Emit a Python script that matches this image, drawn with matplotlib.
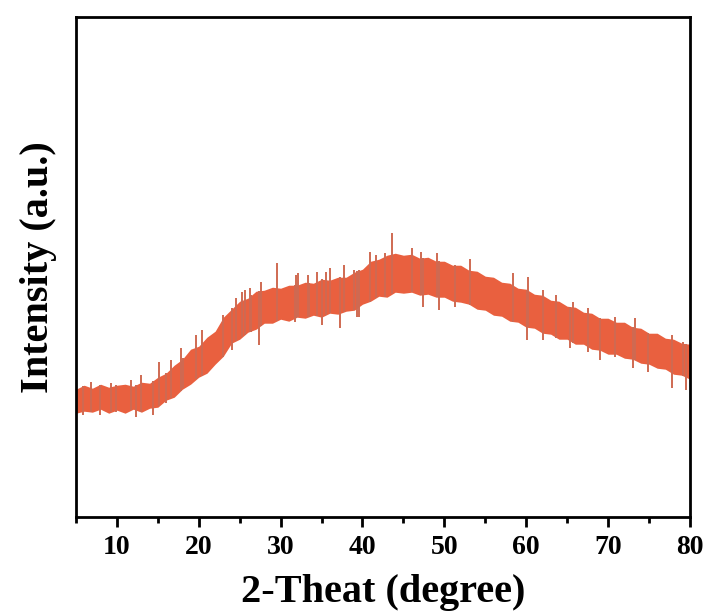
import matplotlib
matplotlib.use('Agg')
import matplotlib.pyplot as plt
import numpy as np
from matplotlib.ticker import MultipleLocator

# 2-theta grid (degrees) with upper / lower edges of the noisy band (a.u.)
theta = list(range(5, 81))
upper = [128, 132, 129, 133, 130, 132, 133, 131, 135, 134,
         140, 144, 152, 158, 168, 171, 180, 186, 200, 208,
         216, 219, 226, 227, 230, 229, 232, 232, 235, 234,
         238, 237, 240, 240, 245, 248, 256, 258, 262, 264,
         262, 263, 259, 260, 256, 256, 252, 252, 247, 246,
         241, 240, 235, 234, 229, 228, 223, 222, 217, 216,
         211, 210, 205, 204, 199, 199, 195, 195, 190, 189,
         184, 184, 179, 178, 174, 173]
lower = [104, 106, 105, 108, 104, 107, 104, 108, 105, 109,
         110, 117, 120, 128, 133, 140, 144, 153, 161, 174,
         178, 185, 188, 194, 194, 198, 196, 200, 199, 202,
         200, 204, 203, 206, 207, 213, 216, 221, 220, 225,
         224, 225, 222, 223, 220, 220, 216, 215, 213, 208,
         207, 202, 201, 196, 195, 190, 189, 184, 183, 178,
         178, 173, 173, 168, 167, 163, 163, 159, 158, 154,
         153, 149, 148, 143, 142, 138]

# isolated spikes above / below the band
up_x = [6.8, 9.3, 11.7, 12.9, 15.2, 16.6, 17.8, 19.7, 20.4, 22.9, 24.6, 25.3,
        25.6, 26.2, 27.6, 29.6, 31.9, 32.1, 33.3, 34.5, 35.6, 36.0, 37.8, 39.0,
        40.9, 41.7, 42.7, 43.6, 46.0, 47.2, 49.1, 53.1, 58.4, 60.2, 62.0, 63.7,
        65.7, 67.5, 70.8, 73.3, 77.8, 79.2]
up_y = [135, 134, 137, 142, 155, 157, 169, 182, 187, 202, 219, 225,
        227, 229, 235, 254, 242, 244, 242, 245, 245, 249, 252, 247,
        265, 262, 264, 284, 269, 265, 264, 258, 244, 240, 227, 222,
        215, 209, 200, 199, 182, 175]
down_x = [5.9, 7.9, 9.9, 12.3, 14.4, 16.0, 18.1, 19.7, 24.1, 26.4, 27.4,
          31.7, 33.5, 35.0, 37.3, 39.3, 39.6, 47.4, 49.4, 51.3, 60.1, 62.1,
          65.4, 67.5, 69.0, 70.9, 73.1, 74.9, 77.8, 79.5]
down_y = [102, 102, 105, 100, 102, 114, 129, 140, 167, 185, 172,
          195, 200, 192, 189, 200, 200, 210, 207, 210, 177, 177,
          169, 165, 157, 160, 149, 145, 129, 127]

color = '#E9603F'
spike_color = '#CF6A52'

plt.rcParams['font.family'] = ['Liberation Serif', 'DejaVu Serif']
plt.rcParams['font.weight'] = 'bold'

fig = plt.figure(figsize=(7.12, 6.15), dpi=100)
ax = fig.add_axes([0.1067, 0.159, 0.8623, 0.813])

ax.fill_between(theta, lower, upper, color=color, lw=0)
mid = np.interp(up_x, theta, lower)
ax.vlines(up_x, mid, up_y, color=spike_color, lw=1.4)
mid = np.interp(down_x, theta, upper)
ax.vlines(down_x, down_y, mid, color=spike_color, lw=1.4)

ax.set_xlim(5, 80)
ax.set_ylim(0, 500)
ax.xaxis.set_major_locator(MultipleLocator(10))
ax.xaxis.set_minor_locator(MultipleLocator(5))
ax.set_yticks([])
ax.tick_params(axis='x', which='major', direction='out', length=7, width=2,
               labelsize=20, pad=6)
ax.tick_params(axis='x', which='minor', direction='out', length=4, width=2)
for lab in ax.get_xticklabels():
    lab.set_fontweight('bold')
for s in ax.spines.values():
    s.set_linewidth(2)

ax.set_xlabel('2-Theat (degree)', fontsize=29, fontweight='bold', labelpad=10)
ax.set_ylabel('Intensity (a.u.)', fontsize=29, fontweight='bold', labelpad=14)

fig.savefig('out.png', dpi=100)
